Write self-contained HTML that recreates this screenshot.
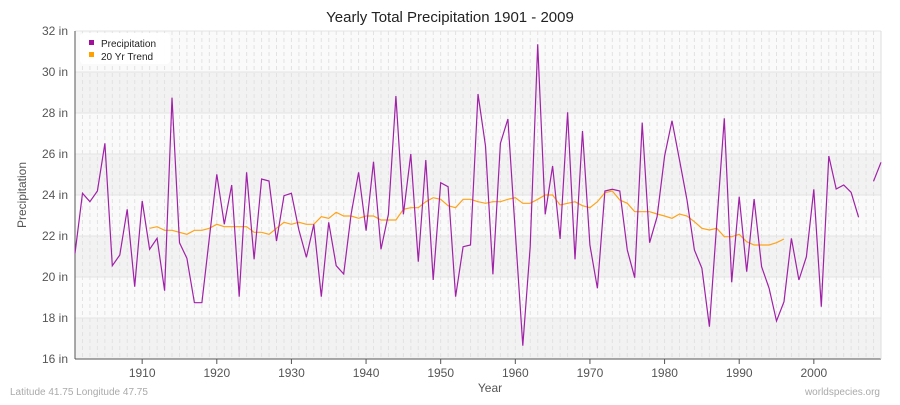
<!DOCTYPE html>
<html><head><meta charset="utf-8"><style>
html,body{margin:0;padding:0;background:#fff;}
svg text{font-family:"Liberation Sans",sans-serif;}
</style></head><body>
<svg id="s" width="900" height="400" xmlns="http://www.w3.org/2000/svg">
<rect width="900" height="400" fill="#fff"/>
<g id="bands"></g>
<g id="grid"></g>
<text x="450" y="22" text-anchor="middle" font-size="15" fill="#222">Yearly Total Precipitation 1901 - 2009</text>
<g id="axes"></g>
<path id="trend" fill="none" stroke="#ffa31a" stroke-width="1.2"/>
<path id="prec" fill="none" stroke="#a020a8" stroke-width="1.2"/>
<rect x="80" y="33" width="90" height="31" rx="4" fill="#fff" opacity="0.95"/>
<rect x="89" y="40" width="5" height="5" fill="#a0109a"/>
<text x="101" y="47" font-size="10" fill="#222">Precipitation</text>
<rect x="89" y="52" width="5" height="5" fill="#ffa000"/>
<text x="101" y="60" font-size="10" fill="#222">20 Yr Trend</text>
<text x="490" y="392" text-anchor="middle" font-size="12" fill="#555">Year</text>
<text transform="translate(26,195) rotate(-90)" text-anchor="middle" font-size="12" fill="#555">Precipitation</text>
<text x="10" y="395" font-size="10" fill="#aaa">Latitude 41.75 Longitude 47.75</text>
<text x="880" y="395" text-anchor="end" font-size="10" fill="#aaa">worldspecies.org</text>
</svg>
<script>
var NS="http://www.w3.org/2000/svg";
function el(p,t,a,txt){var e=document.createElementNS(NS,t);for(var k in a)e.setAttribute(k,a[k]);if(txt)e.textContent=txt;document.getElementById(p).appendChild(e);}
var L=75,R=881,T=31,B=359;
function X(yr){return L+(yr-1901)*(R-L)/108;}
function Y(v){return T+(32-v)*(B-T)/16;}
for(var i=0;i<8;i++){var v=32-2*i;el("bands","rect",{x:L,y:Y(v),width:R-L,height:Y(v-2)-Y(v),fill:i%2?"#f2f2f2":"#fafafa"});}
for(var yr=1901;yr<=2009;yr++){el("grid","line",{x1:X(yr),x2:X(yr),y1:T,y2:B,stroke:"#e2e2e2","stroke-dasharray":"4,3","stroke-width":1});}
for(var v=16;v<=32;v+=2){el("grid","line",{x1:L,x2:R,y1:Y(v),y2:Y(v),stroke:"#e4e4e4","stroke-width":1});
el("axes","text",{x:68,y:Y(v)+4,"text-anchor":"end","font-size":"12",fill:"#555"},v+" in");}
el("axes","line",{x1:L,x2:L,y1:T,y2:B,stroke:"#555"});
el("axes","line",{x1:L,x2:R,y1:B,y2:B,stroke:"#555"});
el("axes","line",{x1:R,x2:R,y1:T,y2:B,stroke:"#ddd"});
for(var yr=1910;yr<=2000;yr+=10){el("axes","line",{x1:X(yr),x2:X(yr),y1:B,y2:B+5,stroke:"#555"});
el("axes","text",{x:X(yr),y:B+18,"text-anchor":"middle","font-size":"12",fill:"#555"},yr);}
function zv(zy){var y=20+zy/3;return 32-(y-T)*16/(B-T);}
var pz=[700,520,545,513,370,737,705,568,800,543,688,655,812,233,668,715,848,848,655,463,613,495,830,457,718,477,483,663,527,520,630,712,613,830,607,737,762,583,457,632,425,688,583,228,583,402,725,420,780,488,500,830,680,675,222,378,763,370,297,637,977,680,73,583,438,657,277,718,333,675,805,513,508,513,690,773,308,668,590,408,302,420,540,690,745,920,608,295,787,530,755,537,740,805,903,845,655,780,710,508,860,408,507,495,517,592,null,484,427];
var d="",pen=false;
for(var i=0;i<pz.length;i++){var yr=1901+i;if(pz[i]===null){pen=false;continue;}
var yy=(yr>=1938&&yr<=1974)?pz[i]:pz[i];
d+=(pen?"L":"M")+X(yr).toFixed(1)+","+Y(zv(yy)).toFixed(1);pen=true;}
document.getElementById("prec").setAttribute("d",d);
var tz=[625,620,631,631,637,643,631,631,625,613,620,620,620,620,637,637,643,625,607,613,607,613,613,590,595,577,588,588,595,588,588,600,600,600,568,563,563,545,533,538,557,563,538,538,545,550,545,545,538,533,550,550,538,525,525,555,550,545,557,563,545,518,513,540,550,575,575,575,582,588,595,582,588,605,625,630,625,650,650,643,665,675,675,675,668,657];
var d2="";for(var i=0;i<tz.length;i++){d2+=(i?"L":"M")+X(1911+i).toFixed(1)+","+Y(zv(tz[i])).toFixed(1);}
document.getElementById("trend").setAttribute("d",d2);
</script>
</body></html>
